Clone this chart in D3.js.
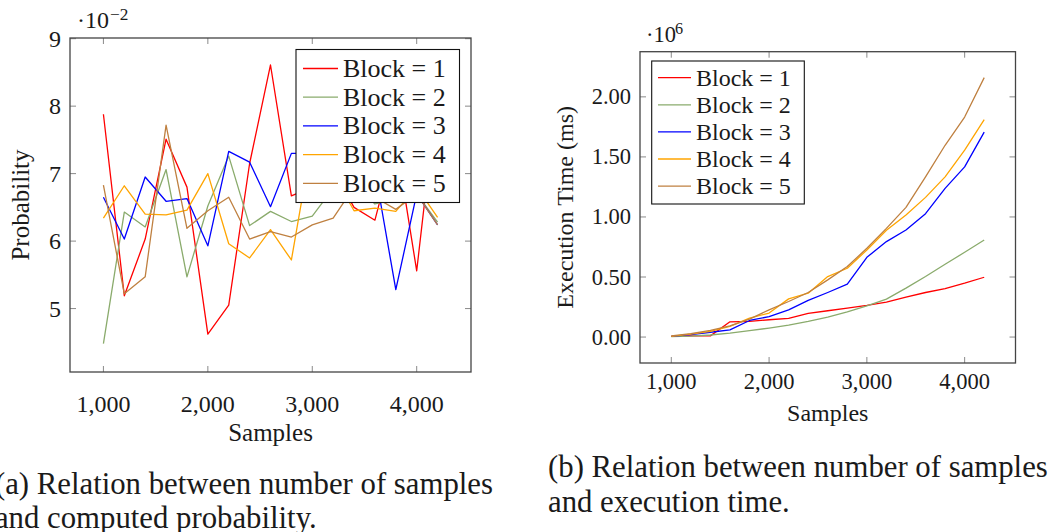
<!DOCTYPE html>
<html><head><meta charset="utf-8">
<script src="https://cdn.jsdelivr.net/npm/d3@7"></script>
<style>body{margin:0;background:#fff}svg{display:block}</style>
</head><body>
<script>
const samples = [1000,1200,1400,1600,1800,2000,2200,2400,2600,2800,3000,3200,3400,3600,3800,4000,4200];
const seriesNames = ["Block = 1","Block = 2","Block = 3","Block = 4","Block = 5"];
const seriesColors = ["#ff0000","#8aab6c","#0000ff","#ffa500","#bf8040"];
// probability (x 10^-2)
const probB1 = [7.88,5.19,6.03,7.51,6.80,4.62,5.05,7.15,8.61,6.67,6.80,7.05,6.50,6.31,7.50,5.56,8.25];
const probB2 = [4.48,6.43,6.21,7.06,5.47,6.52,7.26,6.23,6.44,6.29,6.37,6.78,6.85,6.55,6.62,6.70,6.28];
const probB3 = [6.65,6.03,6.95,6.59,6.63,5.93,7.33,7.17,6.51,7.30,7.30,7.00,6.90,7.05,5.28,6.70,6.24];
const probB4 = [6.34,6.82,6.40,6.39,6.46,7.00,5.96,5.75,6.17,5.72,7.50,7.00,6.45,6.49,6.44,6.80,6.35];
const probB5 = [6.83,5.22,5.47,7.72,6.19,6.45,6.65,6.03,6.14,6.06,6.24,6.34,6.80,6.65,6.47,6.70,6.24];
// execution time (x 10^6 ms)
const timeB1 = [0.005,0.010,0.010,0.127,0.130,0.144,0.155,0.197,0.219,0.241,0.263,0.290,0.332,0.371,0.404,0.449,0.498];
const timeB2 = [0.003,0.008,0.017,0.033,0.053,0.075,0.100,0.130,0.166,0.210,0.260,0.316,0.407,0.504,0.606,0.706,0.808];
const timeB3 = [0.006,0.020,0.040,0.060,0.138,0.170,0.227,0.305,0.371,0.440,0.664,0.795,0.891,1.027,1.238,1.417,1.706];
const timeB4 = [0.006,0.025,0.047,0.089,0.158,0.200,0.318,0.365,0.504,0.573,0.725,0.890,1.016,1.163,1.334,1.556,1.810];
const timeB5 = [0.010,0.028,0.055,0.094,0.150,0.227,0.296,0.371,0.476,0.587,0.739,0.905,1.080,1.334,1.597,1.832,2.160];
const xTicks = [1000,2000,3000,4000];
const probTicks = [5,6,7,8,9];
const timeTicks = [0,0.5,1,1.5,2];

const FONT = "'Liberation Serif','Times New Roman',serif";
const W = 1058, H = 532;
const svg = d3.select("body").append("svg").attr("width", W).attr("height", H);

function panel(o) {
  const g = svg.append("g");
  const x = d3.scaleLinear().domain(o.xDomain).range([o.left, o.right]);
  const y = d3.scaleLinear().domain(o.yDomain).range([o.bottom, o.top]);
  const line = d3.line().x((d,i) => x(samples[i])).y(d => y(d));
  const clipId = "clip" + o.id;
  svg.append("clipPath").attr("id", clipId).append("rect")
    .attr("x", o.left).attr("y", o.top).attr("width", o.right-o.left).attr("height", o.bottom-o.top);
  g.append("g").attr("clip-path", `url(#${clipId})`).selectAll("path").data(o.series).join("path")
    .attr("d", d => line(d)).attr("fill","none").attr("stroke",(d,i)=>seriesColors[i]).attr("stroke-width",1.3)
    .attr("stroke-linejoin","round");
  // ticks (inward, mirrored)
  const tl = 6;
  const ax = g.append("g").attr("stroke","#8a8a8a").attr("stroke-width",1);
  o.xTicks.forEach(t => {
    ax.append("line").attr("x1",x(t)).attr("x2",x(t)).attr("y1",o.bottom).attr("y2",o.bottom-tl);
    ax.append("line").attr("x1",x(t)).attr("x2",x(t)).attr("y1",o.top).attr("y2",o.top+tl);
  });
  o.yTicks.forEach(t => {
    ax.append("line").attr("y1",y(t)).attr("y2",y(t)).attr("x1",o.left).attr("x2",o.left+tl);
    ax.append("line").attr("y1",y(t)).attr("y2",y(t)).attr("x1",o.right).attr("x2",o.right-tl);
  });
  g.append("rect").attr("x",o.left).attr("y",o.top).attr("width",o.right-o.left).attr("height",o.bottom-o.top)
    .attr("fill","none").attr("stroke","#444").attr("stroke-width",1.3);
  // tick labels
  const fmtX = d3.format(",");
  g.selectAll(".xl").data(o.xTicks).join("text").attr("x",d=>x(d)).attr("y",o.xLabelY)
    .attr("text-anchor","middle").attr("dominant-baseline","central").attr("font-family",FONT)
    .attr("font-size",o.tickFs).attr("fill","#1a1a1a").text(d=>fmtX(d));
  g.selectAll(".yl").data(o.yTicks).join("text").attr("x",o.left-9).attr("y",d=>y(d))
    .attr("text-anchor","end").attr("dominant-baseline","central").attr("font-family",FONT)
    .attr("font-size",o.tickFs).attr("fill","#1a1a1a").text(d=>o.yFmt(d));
  // axis labels
  g.append("text").attr("x",(o.left+o.right)/2).attr("y",o.xTitleY).attr("text-anchor","middle")
    .attr("dominant-baseline","central").attr("font-family",FONT).attr("font-size",o.titleFs).attr("fill","#1a1a1a").text("Samples");
  g.append("text").attr("transform",`translate(${o.yTitleX},${(o.top+o.bottom)/2}) rotate(-90)`).attr("text-anchor","middle")
    .attr("dominant-baseline","central").attr("font-family",FONT).attr("font-size",o.titleFs).attr("fill","#1a1a1a").text(o.yTitle);
  // scale exponent
  g.append("text").attr("x",o.expX).attr("y",o.expY).attr("font-family",FONT).attr("font-size",o.tickFs).attr("fill","#1a1a1a")
    .text("·10");
  g.append("text").attr("x",o.expX+o.supDx).attr("y",o.expY-8).attr("font-family",FONT).attr("font-size",o.tickFs*0.72).attr("fill","#1a1a1a")
    .text(o.expSup);
  // legend
  const L = o.legend;
  const lg = g.append("g");
  lg.append("rect").attr("x",L.x0).attr("y",L.y0).attr("width",L.x1-L.x0).attr("height",L.y1-L.y0)
    .attr("fill","#fff").attr("stroke","#111").attr("stroke-width",1.1);
  seriesNames.forEach((n,i) => {
    const yy = L.row0 + i*L.step;
    lg.append("line").attr("x1",L.lx0).attr("x2",L.lx1).attr("y1",yy).attr("y2",yy)
      .attr("stroke",seriesColors[i]).attr("stroke-width",1.3);
    lg.append("text").attr("x",L.tx).attr("y",yy).attr("dominant-baseline","central").attr("font-family",FONT)
      .attr("font-size",L.fs).attr("fill","#1a1a1a").text(n);
  });
}

panel({id:"a", left:70, right:471, top:38, bottom:372, xDomain:[680,4520], yDomain:[4.06,9.01],
  series:[probB1,probB2,probB3,probB4,probB5], xTicks:xTicks, yTicks:probTicks, yFmt:d3.format("d"),
  xLabelY:404, xTitleY:432, yTitleX:20, yTitle:"Probability", tickFs:24, titleFs:25,
  expX:77, expY:28, supDx:33, expSup:"−2",
  legend:{x0:296,x1:459.5,y0:49.5,y1:202.5,row0:68.5,step:28.7,lx0:303,lx1:338,tx:343,fs:26}});

panel({id:"b", left:640, right:1015.5, top:51.7, bottom:363, xDomain:[680,4520], yDomain:[-0.216,2.376],
  series:[timeB1,timeB2,timeB3,timeB4,timeB5], xTicks:xTicks, yTicks:timeTicks, yFmt:d3.format(".2f"),
  xLabelY:381, xTitleY:413, yTitleX:565, yTitle:"Execution Time (ms)", tickFs:22.5, titleFs:24,
  expX:646, expY:41.5, supDx:29, expSup:"6",
  legend:{x0:651.7,x1:804.3,y0:61,y1:204,row0:77.7,step:27.1,lx0:658,lx1:691,tx:696,fs:24}});

// captions
function cap(x, y, txt, fs, anchor) {
  return svg.append("text").attr("x",x).attr("y",y).attr("dominant-baseline","central").attr("text-anchor",anchor||"start")
    .attr("font-family",FONT).attr("font-size",fs).attr("fill","#1a1a1a").text(txt);
}
const b1 = cap(548, 467, "(b) Relation between number of samples", 28);
const w = b1.node().getComputedTextLength();
const fs = 28 * 500 / w;
b1.attr("font-size", fs);
cap(548, 502, "and execution time.", fs);
const a1 = cap(493, 484, "(a) Relation between number of samples", fs, "end");
const aStart = 493 - a1.node().getComputedTextLength();
cap(aStart, 518, "and computed probability.", fs);
</script>
</body></html>
